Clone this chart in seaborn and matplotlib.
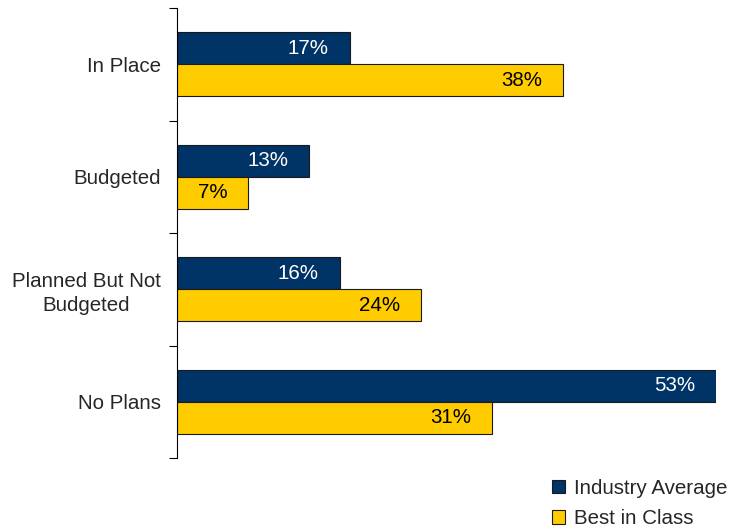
import matplotlib
matplotlib.use("Agg")
import matplotlib.pyplot as plt
import seaborn as sns
import pandas as pd
from matplotlib.ticker import FixedLocator, NullFormatter
from matplotlib.patches import Patch

categories = ["In Place", "Budgeted", "Planned But Not\nBudgeted", "No Plans"]
series_names = ["Industry Average", "Best in Class"]
industry_avg = [17, 13, 16, 53]
best_in_class = [38, 7, 24, 31]
colors = ["#003366", "#FFCC00"]
label_colors = ["white", "black"]

df = pd.DataFrame({
    "category": categories * 2,
    "series": [series_names[0]] * 4 + [series_names[1]] * 4,
    "value": industry_avg + best_in_class,
})

sns.set_style("white")
plt.rcParams["font.family"] = ["Liberation Sans", "DejaVu Sans"]
FS = 14.8

fig = plt.figure(figsize=(7.31, 5.29), dpi=100)
ax = fig.add_axes([177 / 731, 1 - 458 / 529, 539 / 731, 450 / 529])

sns.barplot(data=df, y="category", x="value", hue="series", orient="h",
            palette=colors, width=0.57, edgecolor="#1a1a1a", linewidth=0.8,
            ax=ax, legend=False, saturation=1)

ax.set_xlim(0, 53)
ax.set_ylim(3.5, -0.5)
ax.set_xlabel("")
ax.set_ylabel("")
ax.set_xticks([])
for s in ["top", "right", "bottom"]:
    ax.spines[s].set_visible(False)
ax.spines["left"].set_color("black")
ax.spines["left"].set_linewidth(0.8)

ax.tick_params(axis="y", which="major", length=0, pad=11.5, labelsize=FS)
for lbl in ax.get_yticklabels():
    lbl.set_multialignment("center")
    lbl.set_linespacing(1.3)
ax.yaxis.set_minor_locator(FixedLocator([-0.5, 0.5, 1.5, 2.5, 3.5]))
ax.yaxis.set_minor_formatter(NullFormatter())
ax.tick_params(axis="y", which="minor", length=6, width=0.8, color="black", left=True)

for container, tc in zip(ax.containers, label_colors):
    for patch in container:
        w = patch.get_width()
        y = patch.get_y() + patch.get_height() / 2
        ax.annotate(f"{w:.0f}%", xy=(w, y), xytext=(-21, 0),
                    textcoords="offset pixels", ha="right", va="center",
                    color=tc, fontsize=FS)

handles = [Patch(facecolor=c, edgecolor="#1a1a1a", linewidth=0.8) for c in colors]
fig.legend(handles, series_names, loc="upper left",
           bbox_to_anchor=(552 / 731, 1 - 479 / 529), frameon=False,
           fontsize=FS, handlelength=0.62, handleheight=0.62,
           handletextpad=0.45, labelspacing=0.55, borderaxespad=0, borderpad=0)

fig.savefig("out.png", dpi=100, facecolor="white")
